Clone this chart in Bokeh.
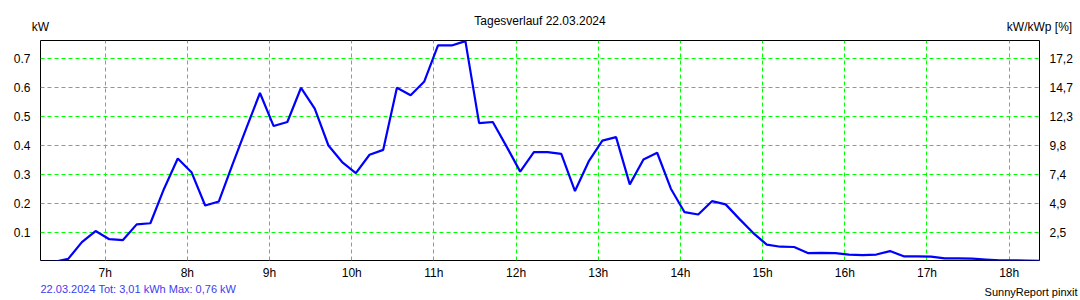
from bokeh.plotting import figure
from bokeh.models import Range1d, LinearAxis, FixedTicker, Title
from bokeh.embed import file_html
from bokeh.resources import INLINE

# --- data -------------------------------------------------------------
start_hour = 6 + 13 / 60.0   # first sample 06:13
step_minutes = 10
power_kw = [
    0.000, 0.000, 0.010, 0.068, 0.106, 0.078, 0.075, 0.129, 0.133, 0.252,
    0.356, 0.309, 0.194, 0.208, 0.336, 0.460, 0.582, 0.468, 0.482, 0.600,
    0.528, 0.401, 0.344, 0.306, 0.369, 0.386, 0.600, 0.574, 0.622, 0.746,
    0.746, 0.761, 0.478, 0.482, 0.398, 0.311, 0.378, 0.378, 0.372, 0.244,
    0.346, 0.418, 0.430, 0.267, 0.353, 0.376, 0.252, 0.171, 0.163, 0.209,
    0.198, 0.148, 0.100, 0.059, 0.052, 0.051, 0.030, 0.031, 0.030, 0.025,
    0.023, 0.025, 0.037, 0.019, 0.019, 0.018, 0.012, 0.012, 0.011, 0.008,
    0.005, 0.005, 0.004, 0.003,
]
hours = [start_hour + i * step_minutes / 60.0 for i in range(len(power_kw))]

x_ticks = [7, 8, 9, 10, 11, 12, 13, 14, 15, 16, 17, 18]
x_tick_labels = ["7h", "8h", "9h", "10h", "11h", "12h", "13h", "14h", "15h", "16h", "17h", "18h"]
y_ticks = [0.1, 0.2, 0.3, 0.4, 0.5, 0.6, 0.7]
y_tick_labels = ["0.1", "0.2", "0.3", "0.4", "0.5", "0.6", "0.7"]
y2_tick_labels = ["2,5", "4,9", "7,4", "9,8", "12,3", "14,7", "17,2"]
unit_labels = ["kW", "kW/kWp [%]"]

title_text = "Tagesverlauf 22.03.2024"
footer_left = "22.03.2024 Tot: 3,01 kWh Max: 0,76 kW"
footer_right = "SunnyReport pinxit"

FONT = "Liberation Sans"
X0, X1 = 6.213, 18.369

# --- figure -----------------------------------------------------------
p = figure(width=1080, height=300, output_backend="svg", toolbar_location=None,
           x_range=Range1d(X0, X1), y_range=Range1d(0.0045, 0.763),
           min_border_left=40, min_border_right=41, min_border_top=40,
           min_border_bottom=40)
p.title.visible = False
p.background_fill_color = "white"
p.border_fill_color = "white"
p.outline_line_color = "black"
p.outline_line_width = 1
p.outline_line_alpha = 1.0

p.line(hours, power_kw, line_color="#0000FF", line_width=2.2)

# x axis
xa = p.xaxis[0]
xa.ticker = FixedTicker(ticks=x_ticks)
xa.major_label_overrides = {t: l for t, l in zip(x_ticks, x_tick_labels)}

# left axis
ya = p.yaxis[0]
ya.ticker = FixedTicker(ticks=y_ticks)
ya.major_label_overrides = {t: l for t, l in zip(y_ticks, y_tick_labels)}

# right axis
ra = LinearAxis(ticker=FixedTicker(ticks=y_ticks))
ra.major_label_overrides = {t: l for t, l in zip(y_ticks, y2_tick_labels)}
p.add_layout(ra, "right")

# top axis carrying the unit captions at the frame's two edges
unit_pos = [X0 + 1e-6, X1 - 1e-6]
ta = LinearAxis(ticker=FixedTicker(ticks=unit_pos))
ta.major_label_overrides = {t: l for t, l in zip(unit_pos, unit_labels)}
p.add_layout(ta, "above")

for ax in (xa, ya, ra, ta):
    ax.axis_line_color = None
    ax.major_tick_line_color = None
    ax.minor_tick_line_color = None
    ax.major_label_text_font = FONT
    ax.major_label_text_font_size = "12px"
    ax.major_label_text_color = "black"
    ax.major_label_standoff = 4
xa.major_label_standoff = -1
ta.major_label_standoff = 1

for g in (p.xgrid[0], p.ygrid[0]):
    g.grid_line_color = "#00FF00"
    g.grid_line_dash = "4 3"
    g.grid_line_width = 1
p.xgrid[0].ticker = FixedTicker(ticks=x_ticks)
p.ygrid[0].ticker = FixedTicker(ticks=y_ticks)

# title above
p.add_layout(Title(text=title_text, align="center", text_font=FONT,
                   text_font_size="12px", text_font_style="normal",
                   text_color="black", standoff=-23), "above")

# footers below
p.add_layout(Title(text=footer_left, align="left", vertical_align="top",
                   text_font=FONT, text_font_size="11px",
                   text_font_style="normal", text_color="#3c3cee",
                   standoff=1), "below")
p.add_layout(Title(text=footer_right, align="right", offset=-38,
                   vertical_align="top", text_font=FONT,
                   text_font_size="11px", text_font_style="normal",
                   text_color="black", standoff=-24), "below")

open("out.html", "w").write(file_html(p, INLINE))
